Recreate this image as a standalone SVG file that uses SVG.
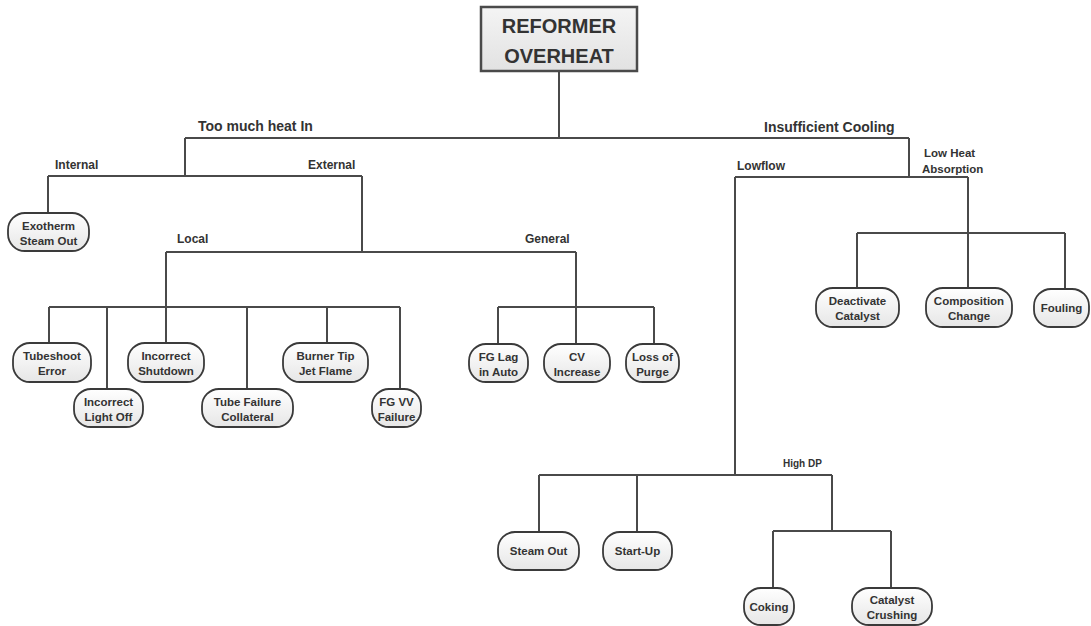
<svg xmlns="http://www.w3.org/2000/svg" width="1091" height="626" viewBox="0 0 1091 626">
<defs>
<linearGradient id="ng" x1="0" y1="0" x2="0" y2="1"><stop offset="0" stop-color="#ffffff"/><stop offset="1" stop-color="#e6e6e6"/></linearGradient>
<linearGradient id="tg" x1="0" y1="0" x2="0" y2="1"><stop offset="0" stop-color="#f4f4f4"/><stop offset="1" stop-color="#e2e2e2"/></linearGradient>
</defs>
<style>
.n rect{fill:url(#ng);stroke:#3a3a3a;stroke-width:1.8}
.n text{font-family:"Liberation Sans",Arial,sans-serif;font-weight:bold;font-size:11.5px;fill:#333;text-anchor:middle}
.lbl{font-family:"Liberation Sans",Arial,sans-serif;font-weight:bold;fill:#333}
#connectors path{fill:none;stroke:#4a4a4a;stroke-width:2}
</style>
<rect width="1091" height="626" fill="#ffffff"/>
<g id="connectors">
<path d="M559 71V138M185 138H909"/>
<path d="M185 138V176M48 176H362M48 176V213M362 176V252"/>
<path d="M166 252H576M166 252V307M49 307H400M49 307V343M107 307V389M166 307V343M247 307V389M327 307V343M400 307V389"/>
<path d="M576 252V344M498 307H654M498 307V344M654 307V344"/>
<path d="M909 138V177M735 177H968M968 177V288M857 233H1065M857 233V288M1065 233V289"/>
<path d="M735 177V475M539 475H832M539 475V532M637 475V532M832 475V531M773 531H891M773 531V588M891 531V588"/>
</g>
<g id="root">
<rect x="481" y="7" width="156" height="64" fill="url(#tg)" stroke="#4a4a4a" stroke-width="2.5"/>
<text class="lbl" x="559" y="33" font-size="20" text-anchor="middle">REFORMER</text>
<text class="lbl" x="559" y="63" font-size="20" text-anchor="middle">OVERHEAT</text>
</g>
<g id="labels">
<text class="lbl" x="198" y="131" font-size="14">Too much heat In</text>
<text class="lbl" x="764" y="132" font-size="14">Insufficient Cooling</text>
<text class="lbl" x="55" y="169" font-size="12">Internal</text>
<text class="lbl" x="308" y="169" font-size="12">External</text>
<text class="lbl" x="177" y="243" font-size="12">Local</text>
<text class="lbl" x="525" y="243" font-size="12">General</text>
<text class="lbl" x="737" y="170" font-size="12">Lowflow</text>
<text class="lbl" x="924" y="157" font-size="11.5">Low Heat</text>
<text class="lbl" x="922" y="173" font-size="11.5">Absorption</text>
<text class="lbl" x="783" y="467" font-size="10">High DP</text>
</g>
<g id="exotherm" class="n"><rect x="8" y="213" width="81" height="38" rx="17"/><text x="48.5" y="230">Exotherm</text><text x="48.5" y="245">Steam Out</text></g>
<g id="tubeshoot" class="n"><rect x="13" y="343" width="78" height="39" rx="17"/><text x="52" y="360">Tubeshoot</text><text x="52" y="375">Error</text></g>
<g id="lightoff" class="n"><rect x="74" y="389" width="69" height="38" rx="17"/><text x="108.5" y="406">Incorrect</text><text x="108.5" y="421">Light Off</text></g>
<g id="shutdown" class="n"><rect x="128" y="343" width="76" height="39" rx="17"/><text x="166" y="360">Incorrect</text><text x="166" y="375">Shutdown</text></g>
<g id="tubefail" class="n"><rect x="202" y="389" width="91" height="38" rx="17"/><text x="247.5" y="406">Tube Failure</text><text x="247.5" y="421">Collateral</text></g>
<g id="burner" class="n"><rect x="283" y="343" width="85" height="39" rx="17"/><text x="325.5" y="360">Burner Tip</text><text x="325.5" y="375">Jet Flame</text></g>
<g id="fgvv" class="n"><rect x="372" y="389" width="49" height="38" rx="17"/><text x="396.5" y="406">FG VV</text><text x="396.5" y="421">Failure</text></g>
<g id="fglag" class="n"><rect x="469" y="344" width="59" height="38" rx="17"/><text x="498.5" y="361">FG Lag</text><text x="498.5" y="376">in Auto</text></g>
<g id="cv" class="n"><rect x="544" y="344" width="66" height="38" rx="17"/><text x="577" y="361">CV</text><text x="577" y="376">Increase</text></g>
<g id="purge" class="n"><rect x="626" y="344" width="53" height="38" rx="17"/><text x="652.5" y="361">Loss of</text><text x="652.5" y="376">Purge</text></g>
<g id="deactivate" class="n"><rect x="816" y="288" width="83" height="39" rx="17"/><text x="857.5" y="305">Deactivate</text><text x="857.5" y="320">Catalyst</text></g>
<g id="composition" class="n"><rect x="926" y="288" width="86" height="39" rx="17"/><text x="969" y="305">Composition</text><text x="969" y="320">Change</text></g>
<g id="fouling" class="n"><rect x="1034" y="289" width="55" height="38" rx="17"/><text x="1061.5" y="312">Fouling</text></g>
<g id="steamout" class="n"><rect x="498" y="532" width="81" height="38" rx="17"/><text x="538.5" y="555">Steam Out</text></g>
<g id="startup" class="n"><rect x="603" y="532" width="69" height="38" rx="17"/><text x="637.5" y="555">Start-Up</text></g>
<g id="coking" class="n"><rect x="744" y="588" width="50" height="37" rx="17"/><text x="769" y="611">Coking</text></g>
<g id="crushing" class="n"><rect x="852" y="588" width="80" height="37" rx="17"/><text x="892" y="604">Catalyst</text><text x="892" y="619">Crushing</text></g>
</svg>
